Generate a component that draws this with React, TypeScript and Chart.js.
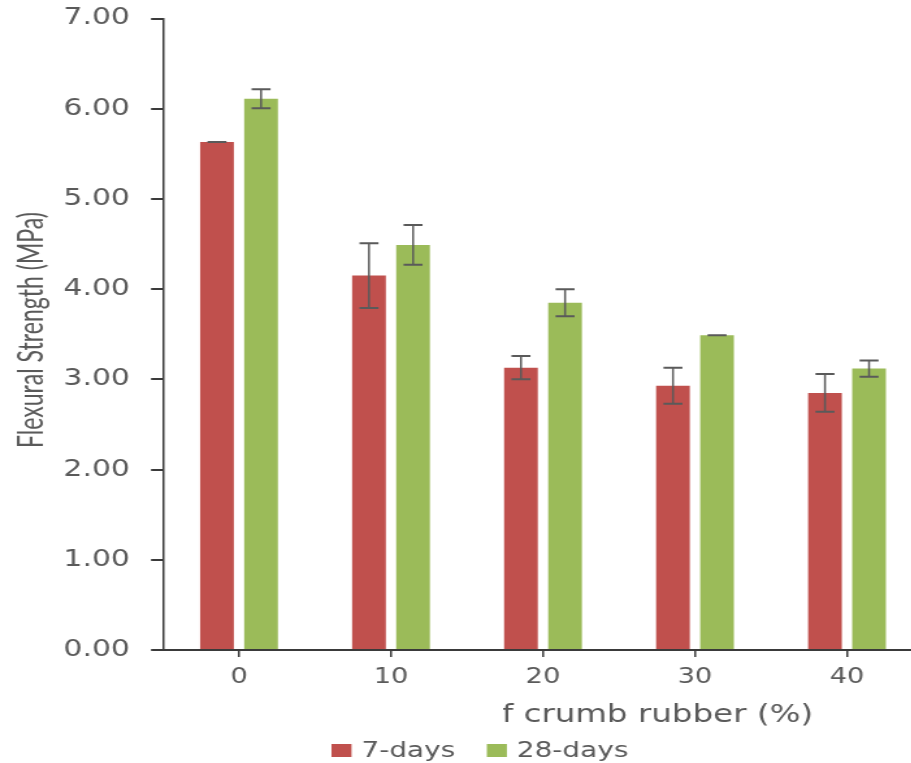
import React, { useEffect, useRef } from 'react';
import { Chart, registerables } from 'chart.js';
Chart.register(...registerables);

const categories = ['0', '10', '20', '30', '40'];
const seriesLabels = ['7-days', '28-days'];
const days7 = [5.63, 4.15, 3.13, 2.93, 2.85];
const days7Err = [0.0, 0.36, 0.13, 0.2, 0.21];
const days28 = [6.11, 4.49, 3.85, 3.49, 3.12];
const days28Err = [0.105, 0.22, 0.15, 0.0, 0.09];
const yMin = 0;
const yMax = 7;
const yStep = 1;
const xTitle = 'Percentage of crumb rubber (%)';
const yTitle = 'Flexural Strength (MPa)';

const colors = ['#C0504D', '#9BBB59'];
const STRETCH = 1.3;
const W = 710;
const H = 763;
const TEXT = '#5a5a5a';
const AXIS = '#3a3a3a';

const errorBarPlugin = {
  id: 'errorBars',
  afterDatasetsDraw(chart: any) {
    const ctx = chart.ctx;
    const yScale = chart.scales.y;
    ctx.save();
    ctx.strokeStyle = '#5a5a5a';
    chart.data.datasets.forEach((ds: any, i: number) => {
      const meta = chart.getDatasetMeta(i);
      meta.data.forEach((el: any, j: number) => {
        const v = ds.data[j];
        const e = ds.errors[j];
        const top = yScale.getPixelForValue(v + e);
        const bot = yScale.getPixelForValue(v - e);
        const x = el.x;
        const half = 7.3;
        ctx.lineWidth = 1.5;
        ctx.beginPath();
        ctx.moveTo(x, top);
        ctx.lineTo(x, bot);
        ctx.stroke();
        ctx.lineWidth = 2;
        ctx.beginPath();
        ctx.moveTo(x - half, top);
        ctx.lineTo(x + half, top);
        ctx.moveTo(x - half, bot);
        ctx.lineTo(x + half, bot);
        ctx.stroke();
      });
    });
    ctx.restore();
  },
};

const textPlugin = {
  id: 'texts',
  afterDraw(chart: any) {
    const ctx = chart.ctx;
    ctx.save();
    // Y title
    ctx.fillStyle = TEXT;
    ctx.font = '26px Lato';
    const yw = ctx.measureText(yTitle).width;
    ctx.translate(25, 330);
    ctx.rotate(-Math.PI / 2);
    ctx.scale(236 / yw, 1);
    ctx.textAlign = 'center';
    ctx.textBaseline = 'middle';
    ctx.fillText(yTitle, 0, 0);
    ctx.restore();

    // X title (clipped at left as in the reference)
    ctx.save();
    ctx.beginPath();
    ctx.rect(387, 680, W - 387, 60);
    ctx.clip();
    ctx.fillStyle = TEXT;
    ctx.font = '25px "DejaVu Sans"';
    ctx.textAlign = 'right';
    ctx.textBaseline = 'alphabetic';
    ctx.fillText(xTitle, 625.4, 722);
    ctx.restore();

    // Legend
    ctx.save();
    ctx.font = '21.5px "DejaVu Sans"';
    ctx.textBaseline = 'alphabetic';
    ctx.textAlign = 'left';
    const legendX = [255, 374.5];
    chart.data.datasets.forEach((ds: any, i: number) => {
      const x = legendX[i];
      ctx.fillStyle = ds.backgroundColor;
      ctx.fillRect(x, 744, 15.4, 13);
      ctx.fillStyle = TEXT;
      ctx.fillText(ds.label, x + 23, 757);
    });
    ctx.restore();
  },
};

export default function App() {
  const ref = useRef<HTMLCanvasElement>(null);
  useEffect(() => {
    document.documentElement.style.overflow = 'hidden';
    document.body.style.overflow = 'hidden';
    const canvas = ref.current!;
    canvas.width = W;
    canvas.height = H;
    const chart = new Chart(canvas, {
      type: 'bar',
      data: {
        labels: categories,
        datasets: [
          { label: seriesLabels[0], data: days7, errors: days7Err, backgroundColor: colors[0] } as any,
          { label: seriesLabels[1], data: days28, errors: days28Err, backgroundColor: colors[1] } as any,
        ],
      },
      options: {
        responsive: false,
        animation: false,
        devicePixelRatio: 1,
        layout: { padding: { top: 18.5, left: 0, right: 0, bottom: 0 } },
        plugins: {
          legend: { display: false },
          tooltip: { enabled: false },
          title: { display: false },
        },
        datasets: {
          bar: { categoryPercentage: 0.58, barPercentage: 0.765 },
        },
        scales: {
          x: {
            offset: true,
            grid: {
              offset: false,
              drawOnChartArea: false,
              drawTicks: true,
              tickLength: 7,
              color: AXIS,
              lineWidth: 1.5,
            },
            border: { display: true, color: AXIS, width: 2 },
            ticks: {
              color: TEXT,
              font: { family: 'DejaVu Sans', size: 21 },
              padding: 8,
              maxRotation: 0,
            },
            afterFit(scale: any) {
              scale.height = H - 650;
              scale.paddingLeft = 0;
              scale.paddingRight = 0;
            },
          },
          y: {
            min: yMin,
            max: yMax,
            ticks: {
              stepSize: yStep,
              color: TEXT,
              font: { family: 'DejaVu Sans', size: 23 },
              padding: 16.2,
              callback: (v: any) => Number(v).toFixed(2),
            },
            grid: {
              drawOnChartArea: false,
              drawTicks: true,
              tickLength: 9.2,
              color: AXIS,
              lineWidth: 2,
            },
            border: { display: true, color: AXIS, width: 1.5 },
            afterFit(scale: any) {
              scale.width = 125.4;
              scale.paddingTop = 0;
              scale.paddingBottom = 0;
            },
          },
        },
      },
      plugins: [errorBarPlugin, textPlugin],
    } as any);
    return () => chart.destroy();
  }, []);
  return (
    <div style={{ position: 'absolute', left: 0, top: 0, width: 911, height: 763, overflow: 'hidden' }}>
      <canvas
        ref={ref}
        width={W}
        height={H}
        style={{ width: `${W * STRETCH}px`, height: `${H}px`, display: 'block' }}
      />
    </div>
  );
}
